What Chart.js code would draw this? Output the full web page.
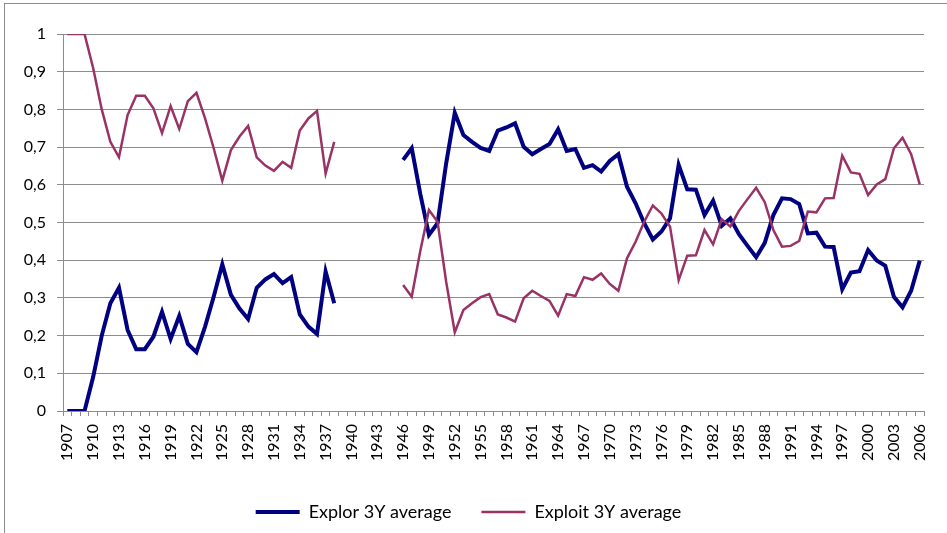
<!DOCTYPE html>
<html>
<head>
<meta charset="utf-8">
<script src="https://cdn.jsdelivr.net/npm/chart.js@4/dist/chart.umd.min.js"></script>
<style>
  html, body { margin: 0; padding: 0; background: #fff; }
  #wrap { width: 947px; height: 533px; position: relative; }
</style>
</head>
<body>
<div id="wrap"><canvas id="chart"></canvas></div>
<script>
// --- data ---
const years = [
  1907, 1908, 1909, 1910, 1911, 1912, 1913, 1914, 1915, 1916,
  1917, 1918, 1919, 1920, 1921, 1922, 1923, 1924, 1925, 1926,
  1927, 1928, 1929, 1930, 1931, 1932, 1933, 1934, 1935, 1936,
  1937, 1938, 1939, 1940, 1941, 1942, 1943, 1944, 1945, 1946,
  1947, 1948, 1949, 1950, 1951, 1952, 1953, 1954, 1955, 1956,
  1957, 1958, 1959, 1960, 1961, 1962, 1963, 1964, 1965, 1966,
  1967, 1968, 1969, 1970, 1971, 1972, 1973, 1974, 1975, 1976,
  1977, 1978, 1979, 1980, 1981, 1982, 1983, 1984, 1985, 1986,
  1987, 1988, 1989, 1990, 1991, 1992, 1993, 1994, 1995, 1996,
  1997, 1998, 1999, 2000, 2001, 2002, 2003, 2004, 2005, 2006
];

const explor = [
  0, 0, 0, 0.09, 0.20, 0.286, 0.327, 0.215, 0.164, 0.164,
  0.197, 0.263, 0.191, 0.252, 0.178, 0.156, 0.224, 0.303, 0.389, 0.308,
  0.272, 0.244, 0.327, 0.349, 0.363, 0.339, 0.355, 0.256, 0.224, 0.204,
  0.37, 0.286, null, null, null, null, null, null, null, 0.666,
  0.697, 0.575, 0.467, 0.498, 0.657, 0.791, 0.732, 0.714, 0.698, 0.69,
  0.744, 0.752, 0.763, 0.701, 0.681, 0.695, 0.708, 0.747, 0.69, 0.695,
  0.645, 0.652, 0.635, 0.663, 0.681, 0.595, 0.551, 0.498, 0.455, 0.476,
  0.511, 0.653, 0.588, 0.587, 0.52, 0.558, 0.491, 0.511, 0.469, 0.438,
  0.408, 0.446, 0.52, 0.564, 0.562, 0.549, 0.471, 0.473, 0.436, 0.435,
  0.323, 0.367, 0.371, 0.427, 0.399, 0.385, 0.303, 0.275, 0.319, 0.399
];

const exploit = [
  1, 1, 1, 0.91, 0.80, 0.714, 0.673, 0.785, 0.836, 0.836,
  0.803, 0.737, 0.809, 0.748, 0.822, 0.844, 0.776, 0.697, 0.611, 0.692,
  0.728, 0.756, 0.673, 0.651, 0.637, 0.661, 0.645, 0.744, 0.776, 0.796,
  0.63, 0.714, null, null, null, null, null, null, null, 0.334,
  0.303, 0.425, 0.533, 0.502, 0.343, 0.209, 0.268, 0.286, 0.302, 0.31,
  0.256, 0.248, 0.237, 0.299, 0.319, 0.305, 0.292, 0.253, 0.31, 0.305,
  0.355, 0.348, 0.365, 0.337, 0.319, 0.405, 0.449, 0.502, 0.545, 0.524,
  0.489, 0.347, 0.412, 0.413, 0.48, 0.442, 0.509, 0.489, 0.531, 0.562,
  0.592, 0.554, 0.48, 0.436, 0.438, 0.451, 0.529, 0.527, 0.564, 0.565,
  0.677, 0.633, 0.629, 0.573, 0.601, 0.615, 0.697, 0.725, 0.681, 0.601
];

const seriesNames = ['Explor 3Y average', 'Exploit 3Y average'];

// --- styling ---
const FONT = 'Lato, "Open Sans", sans-serif';
const GRID = '#8c8c8c';

// grey frame round the whole chart, like the spreadsheet chart area
const framePlugin = {
  id: 'frame',
  beforeDraw(chart) {
    const ctx = chart.ctx;
    ctx.save();
    ctx.fillStyle = '#fff';
    ctx.fillRect(0, 0, chart.width, chart.height);
    ctx.strokeStyle = '#8c8c8c';
    ctx.lineWidth = 1;
    ctx.strokeRect(4.5, 3.5, chart.width + 10, chart.height + 10);
    ctx.restore();
  }
};

new Chart(document.getElementById('chart'), {
  type: 'line',
  data: {
    labels: years,
    datasets: [
      {
        label: seriesNames[0],
        data: explor,
        borderColor: '#000080',
        backgroundColor: '#000080',
        borderWidth: 4,
        pointRadius: 0,
        tension: 0,
        spanGaps: false,
        order: 1
      },
      {
        label: seriesNames[1],
        data: exploit,
        borderColor: '#993366',
        backgroundColor: '#993366',
        borderWidth: 2.5,
        pointRadius: 0,
        tension: 0,
        spanGaps: false,
        order: 0
      }
    ]
  },
  options: {
    responsive: true,
    maintainAspectRatio: false,
    animation: false,
    layout: { padding: { top: 34, right: 10, left: 0, bottom: 2 } },
    plugins: {
      tooltip: { enabled: false },
      legend: {
        position: 'bottom',
        labels: {
          font: { family: FONT, size: 18 },
          color: '#000',
          usePointStyle: true,
          pointStyle: 'line',
          pointStyleWidth: 44,
          padding: 30,
          sort: (a, b) => a.datasetIndex - b.datasetIndex
        }
      }
    },
    scales: {
      x: {
        offset: true,
        grid: {
          offset: true,
          drawOnChartArea: false,
          drawTicks: true,
          tickLength: 5,
          color: GRID
        },
        border: { color: GRID },
        ticks: {
          autoSkip: false,
          minRotation: 90,
          maxRotation: 90,
          padding: 8,
          color: '#000',
          font: { family: FONT, size: 16 },
          callback: function(value, index) {
            return index % 3 === 0 ? String(years[index]) : '';
          }
        },
        afterFit: function(scale) { scale.height = 62; }
      },
      y: {
        min: 0,
        max: 1,
        grid: { color: GRID, tickLength: 6 },
        border: { color: GRID },
        ticks: {
          stepSize: 0.1,
          padding: 11,
          color: '#000',
          font: { family: FONT, size: 16 },
          callback: v => (Math.round(v * 10) / 10).toString().replace('.', ',')
        },
        afterFit: function(scale) { scale.width = 63; }
      }
    }
  },
  plugins: [framePlugin]
});
</script>
</body>
</html>
